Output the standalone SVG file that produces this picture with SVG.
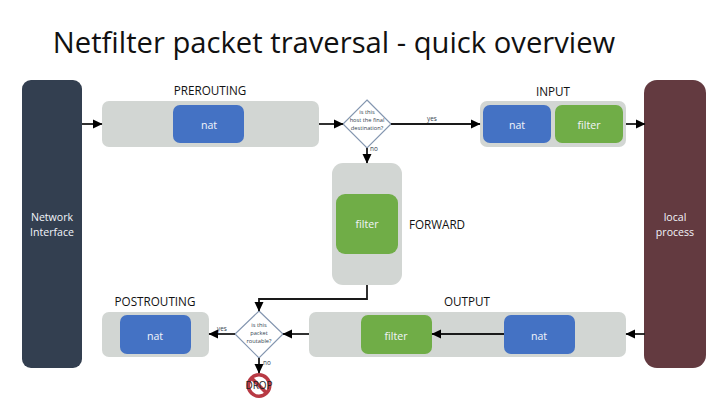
<svg xmlns="http://www.w3.org/2000/svg" width="719" height="406" viewBox="0 0 719 406">
<style>
text{font-family:"Open Sans","Noto Sans",sans-serif;text-anchor:middle}
.t{font-size:11.7px;fill:#111}
.w{font-size:10.6px;fill:#f2f5fa}
.g{fill:#d2d6d3}
.b{fill:#4472c4}
.f{fill:#70ad47}
.d{fill:#fff;stroke:#8496b0;stroke-width:1.2}
.s{font-size:5.7px;fill:#333f50}
.y{font-size:6.4px;fill:#333f50}
.c{fill:none;stroke:#1a1a1a;stroke-width:1.8}
</style>
<defs><marker id="a" markerUnits="userSpaceOnUse" markerWidth="10" markerHeight="10" refX="9" refY="5" orient="auto"><path d="M0 0.5L9.5 5L0 9.5Z" fill="#000"/></marker></defs>
<rect width="719" height="406" fill="#fff"/>
<text x="334" y="53" style="font-size:29.2px;fill:#111">Netfilter packet traversal - quick overview</text>
<g id="network-interface"><rect x="22" y="80" width="60" height="288" rx="9" fill="#333f50"/><text class="w" x="52" y="221">Network</text><text class="w" x="52" y="236">Interface</text></g>
<g id="prerouting"><rect class="g" x="102" y="101" width="217" height="46" rx="7"/><rect class="b" x="173" y="105" width="71" height="38" rx="7"/><text class="w" x="209" y="129">nat</text><text class="t" x="210" y="95">PREROUTING</text></g>
<g id="decision-dest"><path class="d" d="M367 100L391 124L367 148L343 124Z"/><text class="s" x="367" y="114">is this</text><text class="s" x="367" y="122">host the final</text><text class="s" x="367" y="130">destination?</text></g>
<g id="input"><rect class="g" x="480" y="101" width="146" height="46" rx="7"/><rect class="b" x="483" y="105" width="68" height="38" rx="7"/><rect class="f" x="555" y="105" width="68" height="38" rx="7"/><text class="w" x="517" y="129">nat</text><text class="w" x="589" y="129">filter</text><text class="t" x="553" y="96">INPUT</text></g>
<g id="local-process"><rect x="644" y="80" width="62" height="288" rx="13" fill="#633a40"/><text class="w" x="675" y="221">local</text><text class="w" x="675" y="236">process</text></g>
<g id="forward"><rect class="g" x="332" y="163" width="70" height="122" rx="11"/><rect class="f" x="336" y="194" width="62" height="60" rx="9"/><text class="w" x="367" y="228">filter</text><text class="t" x="437" y="229">FORWARD</text></g>
<g id="output"><rect class="g" x="309" y="312" width="317" height="45" rx="7"/><rect class="f" x="361" y="315" width="71" height="39" rx="7"/><rect class="b" x="504" y="315" width="71" height="39" rx="7"/><text class="w" x="396" y="340">filter</text><text class="w" x="539" y="340">nat</text><text class="t" x="467" y="306">OUTPUT</text></g>
<g id="decision-route"><path class="d" d="M259 311L283 334L259 358L235 334Z"/><text class="s" x="259" y="327">is this</text><text class="s" x="259" y="335">packet</text><text class="s" x="259" y="343">routable?</text></g>
<g id="postrouting"><rect class="g" x="102" y="312" width="107" height="45" rx="7"/><rect class="b" x="120" y="315" width="71" height="39" rx="7"/><text class="w" x="155" y="340">nat</text><text class="t" x="155" y="306">POSTROUTING</text></g>
<g id="drop"><circle cx="259" cy="385.5" r="10.7" fill="none" stroke="#b83a44" stroke-width="3.6"/><path d="M251.5 378L266.5 393" stroke="#b83a44" stroke-width="3.6"/><text x="259" y="388.5" style="font-size:10px;font-weight:500;fill:#222">DROP</text></g>
<g id="connectors">
<path class="c" marker-end="url(#a)" d="M82 124H102"/>
<path class="c" marker-end="url(#a)" d="M319 124H343"/>
<path class="c" marker-end="url(#a)" d="M391 124H480"/>
<path class="c" marker-end="url(#a)" d="M367 148V163"/>
<path class="c" marker-end="url(#a)" d="M626 124H645"/>
<path class="c" marker-end="url(#a)" d="M645 334H626"/>
<path class="c" marker-end="url(#a)" d="M504 334H432"/>
<path class="c" marker-end="url(#a)" d="M309 334H283"/>
<path class="c" marker-end="url(#a)" d="M367 285V299H259V311"/>
<path class="c" marker-end="url(#a)" d="M235 334H209"/>
<path class="c" marker-end="url(#a)" d="M259 358V373"/>
<text class="y" x="432" y="121">yes</text>
<text class="y" x="374" y="151">no</text>
<text class="y" x="222" y="331">yes</text>
<text class="y" x="267" y="365">no</text>
</g>
</svg>
